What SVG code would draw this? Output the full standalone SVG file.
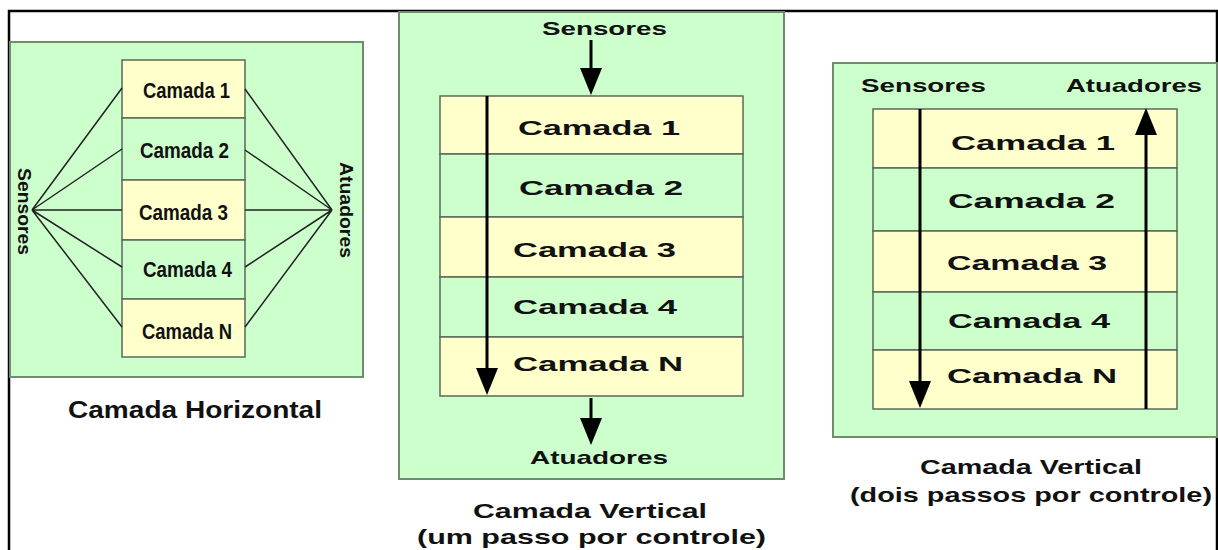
<svg xmlns="http://www.w3.org/2000/svg" width="1218" height="550" viewBox="0 0 1218 550">
<style>
.panel{fill:#ccffcc;stroke:#6f8c6f;stroke-width:2}
.y{fill:#ffffcc;stroke:#5a6a5a;stroke-width:1.5}
.g{fill:#ccffcc;stroke:#5a6a5a;stroke-width:1.5}
.t{font-family:"Liberation Sans",Arial,sans-serif;font-weight:bold;fill:#111;text-anchor:middle}
.n{font-size:22px}
.l{font-size:21px}
.s{font-size:19px}
.c{font-size:23px}
.c2{font-size:21px}
.fan{stroke:#222;stroke-width:1.5;fill:none}
.arr{stroke:#000;stroke-width:3;fill:none;marker-end:url(#ah)}
</style>
<defs>
<marker id="ah" viewBox="0 0 27 22" refX="15" refY="11" markerWidth="27" markerHeight="22" markerUnits="userSpaceOnUse" orient="auto">
<path d="M0,0 L27,11 L0,22 z" fill="#000"/>
</marker>
</defs>
<rect width="1218" height="550" fill="#fff"/>
<path d="M9,551 V11 H1217 V551" fill="none" stroke="#000" stroke-width="2.5"/>

<g id="panel-horizontal">
<rect class="panel" x="10" y="42" width="353" height="335"/>
<g id="h-camada1"><rect class="y" x="122" y="60" width="123" height="58"/><text class="t n" x="186.5" y="98" textLength="87" lengthAdjust="spacingAndGlyphs">Camada 1</text></g>
<g id="h-camada2"><rect class="g" x="122" y="118" width="123" height="62"/><text class="t n" x="184.5" y="158" textLength="89" lengthAdjust="spacingAndGlyphs">Camada 2</text></g>
<g id="h-camada3"><rect class="y" x="122" y="180" width="123" height="60"/><text class="t n" x="183.5" y="220" textLength="89" lengthAdjust="spacingAndGlyphs">Camada 3</text></g>
<g id="h-camada4"><rect class="g" x="122" y="240" width="123" height="59"/><text class="t n" x="187.5" y="277" textLength="89" lengthAdjust="spacingAndGlyphs">Camada 4</text></g>
<g id="h-camadaN"><rect class="y" x="122" y="299" width="123" height="58"/><text class="t n" x="187" y="339" textLength="90" lengthAdjust="spacingAndGlyphs">Camada N</text></g>
<g id="h-sensores"><text class="t s" transform="translate(18,211.5) rotate(90)" textLength="87" lengthAdjust="spacingAndGlyphs">Sensores</text></g>
<g id="h-atuadores"><text class="t s" transform="translate(340,210) rotate(90)" textLength="96" lengthAdjust="spacingAndGlyphs">Atuadores</text></g>
<text class="t c" x="195" y="418" textLength="254" lengthAdjust="spacingAndGlyphs">Camada Horizontal</text>
</g>

<g id="panel-vertical-1">
<rect class="panel" x="399" y="12" width="385" height="467"/>
<g id="v1-camada1"><rect class="y" x="440" y="96" width="303" height="58"/><text class="t l" x="599" y="135" textLength="162" lengthAdjust="spacingAndGlyphs">Camada 1</text></g>
<g id="v1-camada2"><rect class="g" x="440" y="154" width="303" height="63"/><text class="t l" x="601" y="195" textLength="164" lengthAdjust="spacingAndGlyphs">Camada 2</text></g>
<g id="v1-camada3"><rect class="y" x="440" y="217" width="303" height="60"/><text class="t l" x="594.5" y="257" textLength="163" lengthAdjust="spacingAndGlyphs">Camada 3</text></g>
<g id="v1-camada4"><rect class="g" x="440" y="277" width="303" height="60"/><text class="t l" x="595" y="314" textLength="164" lengthAdjust="spacingAndGlyphs">Camada 4</text></g>
<g id="v1-camadaN"><rect class="y" x="440" y="337" width="303" height="59"/><text class="t l" x="598" y="371" textLength="170" lengthAdjust="spacingAndGlyphs">Camada N</text></g>
<g id="v1-sensores"><text class="t s" x="604.5" y="35" textLength="125" lengthAdjust="spacingAndGlyphs">Sensores</text></g>
<g id="v1-atuadores"><text class="t s" x="599" y="464" textLength="138" lengthAdjust="spacingAndGlyphs">Atuadores</text></g>
<text class="t c2" x="590" y="518" textLength="234" lengthAdjust="spacingAndGlyphs">Camada Vertical</text>
<text class="t c2" x="591.5" y="544" textLength="349" lengthAdjust="spacingAndGlyphs">(um passo por controle)</text>
</g>

<g id="panel-vertical-2">
<rect class="panel" x="833" y="63" width="384" height="374"/>
<g id="v2-camada1"><rect class="y" x="873" y="109" width="304" height="59"/><text class="t l" x="1033" y="150" textLength="164" lengthAdjust="spacingAndGlyphs">Camada 1</text></g>
<g id="v2-camada2"><rect class="g" x="873" y="168" width="304" height="63"/><text class="t l" x="1031.5" y="208" textLength="167" lengthAdjust="spacingAndGlyphs">Camada 2</text></g>
<g id="v2-camada3"><rect class="y" x="873" y="231" width="304" height="61"/><text class="t l" x="1027" y="270" textLength="160" lengthAdjust="spacingAndGlyphs">Camada 3</text></g>
<g id="v2-camada4"><rect class="g" x="873" y="292" width="304" height="58"/><text class="t l" x="1029" y="328" textLength="162" lengthAdjust="spacingAndGlyphs">Camada 4</text></g>
<g id="v2-camadaN"><rect class="y" x="873" y="350" width="304" height="59"/><text class="t l" x="1032" y="383" textLength="170" lengthAdjust="spacingAndGlyphs">Camada N</text></g>
<g id="v2-sensores"><text class="t s" x="923.5" y="92" textLength="125" lengthAdjust="spacingAndGlyphs">Sensores</text></g>
<g id="v2-atuadores"><text class="t s" x="1134" y="92" textLength="136" lengthAdjust="spacingAndGlyphs">Atuadores</text></g>
<text class="t c2" x="1031" y="474" textLength="222" lengthAdjust="spacingAndGlyphs">Camada Vertical</text>
<text class="t c2" x="1031" y="502" textLength="362" lengthAdjust="spacingAndGlyphs">(dois passos por controle)</text>
</g>

<g id="connectors">
<path class="fan" d="M32,210 L122,88 M32,210 L122,149 M32,210 L122,210 M32,210 L122,267 M32,210 L122,327"/>
<path class="fan" d="M332,210 L245,89 M332,210 L245,150 M332,210 L245,210 M332,210 L245,267 M332,210 L245,327"/>
<line class="arr" x1="591" y1="40" x2="591" y2="83"/>
<line class="arr" x1="487" y1="96" x2="487" y2="383"/>
<line class="arr" x1="591" y1="398" x2="591" y2="433"/>
<line class="arr" x1="920" y1="109" x2="920" y2="396"/>
<line class="arr" x1="1146" y1="409" x2="1146" y2="120"/>
</g>
</svg>
